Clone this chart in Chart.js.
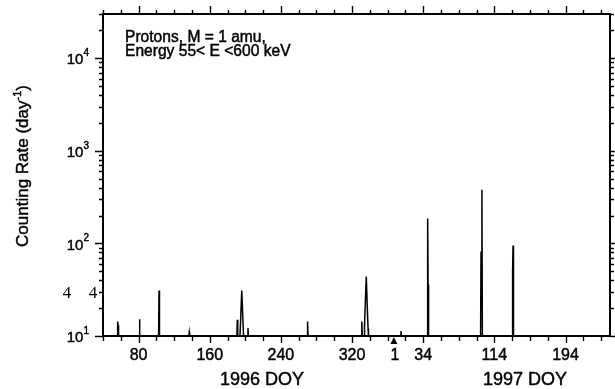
<!DOCTYPE html>
<html>
<head>
<meta charset="utf-8">
<script src="https://cdn.jsdelivr.net/npm/chart.js@4.4.1/dist/chart.umd.min.js"></script>
<style>
  html, body { margin: 0; padding: 0; background: #fff; }
</style>
</head>
<body>
<canvas id="chart" width="615" height="389"></canvas>
<script>
// x runs on continuous days from 1996 Jan 1 (leap year, so 1997 DOY 1 = day 367)
// a rate of 0 means no counts
const days  = [56, 56.5, 57, 57.5,   80.5, 81, 81.5,   102.5, 103, 103.5,   136.5, 137, 137.5,
               190.5, 191, 191.5, 194, 195, 196, 197, 198,   202.5, 203, 203.5,   269.5, 270, 270.5,
               330.5, 331, 331.5, 333.5, 334, 335, 336, 337, 338, 338.5,   374.5, 375, 375.5,
               404.5, 405, 405.5, 406,   464.5, 465, 466, 466.5,   500, 500.5, 501, 501.5];
const rates = [0, 14.3, 13, 0,   0, 15.2, 0,   0, 31, 0,   0, 11, 0,
               0, 15, 0, 0, 17.5, 31, 17.5, 0,   0, 12.2, 0,   0, 14.3, 0,
               0, 14.3, 0, 0, 13, 24, 44, 22, 12, 0,   0, 11.3, 0,
               0, 186, 36, 0,   0, 80, 380, 0,   0, 50, 95, 0];

const xMin = 40, xMax = 610;
const yMin = 10, yMax = 30000;

const xMajorTicks = [80, 160, 240, 320, 400, 480, 560];
const xTickLabels = ['80', '160', '240', '320', '34', '114', '194'];
const yearStartDay = 367;
const yearStartLabel = '1';
const yDecades = [10, 100, 1000, 10000];
const yDecadeExps = ['1', '2', '3', '4'];

const FONT = '"Liberation Sans", Arial, Helvetica, sans-serif';

// text a touch heavier, like the scanned figure
function txt(ctx, s, x, y) {
  ctx.fillText(s, x, y);
  ctx.strokeText(s, x, y);
}

const frame = {
  id: 'frame',
  afterDraw(chart) {
    const { ctx, chartArea: a, scales: { x, y } } = chart;
    ctx.save();
    ctx.strokeStyle = '#000';
    ctx.fillStyle = '#000';

    // box
    ctx.lineWidth = 2;
    ctx.strokeRect(a.left, a.top, a.right - a.left, a.bottom - a.top);

    // x ticks, every 20 days, outward top and bottom
    ctx.lineWidth = 1.4;
    for (let d = xMin; d <= xMax; d += 20) {
      const px = Math.round(x.getPixelForValue(d)) + 0.5;
      const major = xMajorTicks.includes(d);
      ctx.beginPath();
      ctx.moveTo(px, a.bottom);
      ctx.lineTo(px, a.bottom + (major ? 7 : 5));
      ctx.moveTo(px, a.top);
      ctx.lineTo(px, a.top - (major ? 8 : 4));
      ctx.stroke();
    }

    // y ticks, log decades with 2..9 minors, outward left and right
    for (let e = 1; e <= 4; e++) {
      for (let m = 1; m <= 9; m++) {
        const v = m * Math.pow(10, e);
        if (v > yMax) break;
        const py = Math.round(y.getPixelForValue(v)) + 0.5;
        const len = m === 1 ? 8 : 4;
        ctx.beginPath();
        ctx.moveTo(a.left, py);
        ctx.lineTo(a.left - len, py);
        ctx.moveTo(a.right, py);
        ctx.lineTo(a.right + (m === 1 ? 6 : 4), py);
        ctx.stroke();
      }
    }

    ctx.lineWidth = 0.45;

    // x tick labels
    ctx.font = '16px ' + FONT;
    ctx.textAlign = 'center';
    ctx.textBaseline = 'middle';
    xMajorTicks.forEach((d, i) => {
      txt(ctx, xTickLabels[i], x.getPixelForValue(d), a.bottom + 20);
    });
    const ys = x.getPixelForValue(yearStartDay);
    txt(ctx, yearStartLabel, ys + 1, a.bottom + 20);
    ctx.beginPath();
    ctx.moveTo(ys, a.bottom + 1);
    ctx.lineTo(ys + 3.5, a.bottom + 8);
    ctx.lineTo(ys - 3.5, a.bottom + 8);
    ctx.closePath();
    ctx.fill();

    // y decade labels with superscript
    yDecades.forEach((v, i) => {
      const py = y.getPixelForValue(v);
      ctx.font = '10px ' + FONT;
      const sw = ctx.measureText(yDecadeExps[i]).width;
      ctx.textAlign = 'left';
      ctx.textBaseline = 'alphabetic';
      txt(ctx, yDecadeExps[i], 89 - sw, py - 2);
      ctx.font = '15px ' + FONT;
      ctx.textAlign = 'right';
      ctx.textBaseline = 'middle';
      txt(ctx, '10', 89 - sw, py + 2);
    });

    // axis titles
    ctx.font = '18px ' + FONT;
    ctx.textAlign = 'center';
    ctx.textBaseline = 'middle';
    txt(ctx, '1996 DOY', 262, 380);
    txt(ctx, '1997 DOY', 525, 380);

    ctx.save();
    ctx.translate(22, 166);
    ctx.rotate(-Math.PI / 2);
    ctx.font = '17px ' + FONT;
    const t1 = 'Counting Rate (day', t2 = ')';
    const w1 = ctx.measureText(t1).width, w2 = ctx.measureText(t2).width;
    ctx.font = '11px ' + FONT;
    const wsup = ctx.measureText('-1').width;
    let sx = -(w1 + wsup + w2) / 2;
    ctx.textAlign = 'left';
    ctx.textBaseline = 'alphabetic';
    ctx.font = '17px ' + FONT;
    txt(ctx, t1, sx, 6);
    ctx.font = '11px ' + FONT;
    txt(ctx, '-1', sx + w1, -1);
    ctx.font = '17px ' + FONT;
    txt(ctx, t2, sx + w1 + wsup, 6);
    ctx.restore();

    // in-plot note
    ctx.font = '15.6px ' + FONT;
    ctx.textAlign = 'left';
    ctx.textBaseline = 'alphabetic';
    txt(ctx, 'Protons, M = 1 amu,', 125, 42);
    txt(ctx, 'Energy 55< E <600 keV', 125, 56);

    // stray characters left of the axis in the source figure
    ctx.font = '17px "Liberation Serif", "Times New Roman", serif';
    ctx.textAlign = 'center';
    ctx.fillText('4', 67, 298);
    ctx.fillText('4', 93, 298);

    ctx.restore();
  }
};

new Chart(document.getElementById('chart'), {
  type: 'line',
  data: {
    datasets: [{
      data: days.map((d, i) => ({ x: d, y: rates[i] > 0 ? rates[i] : yMin })),
      borderColor: '#000',
      borderWidth: 1.5,
      pointRadius: 0,
      tension: 0,
      fill: false
    }]
  },
  options: {
    responsive: false,
    animation: false,
    devicePixelRatio: 1,
    layout: { padding: { left: 103, right: 5, top: 14, bottom: 53 } },
    plugins: { legend: { display: false }, tooltip: { enabled: false } },
    scales: {
      x: { type: 'linear', min: xMin, max: xMax, display: false },
      y: { type: 'logarithmic', min: yMin, max: yMax, display: false }
    }
  },
  plugins: [frame]
});
</script>
</body>
</html>
